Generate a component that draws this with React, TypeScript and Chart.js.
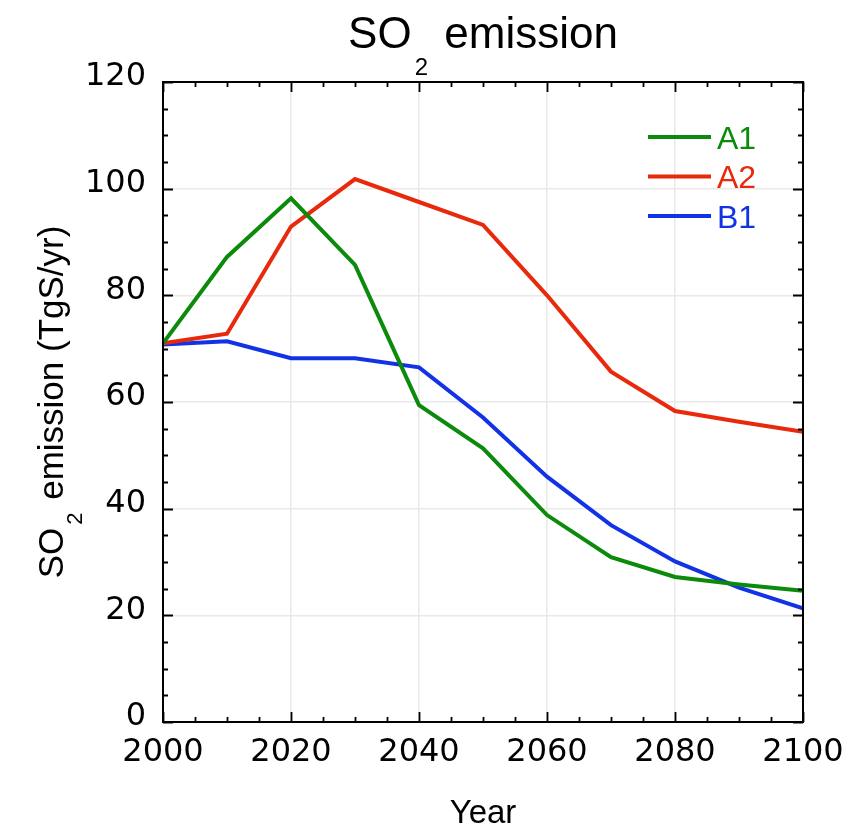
import React, { useEffect, useRef } from 'react';
import { Chart, registerables } from 'chart.js';

Chart.register(...registerables);

// ---- data ----
const years = [2000, 2010, 2020, 2030, 2040, 2050, 2060, 2070, 2080, 2090, 2100];
const seriesA1 = [71.0, 87.2, 98.2, 85.7, 59.4, 51.3, 38.8, 30.9, 27.2, 25.8, 24.6];
const seriesA2 = [71.0, 72.8, 92.9, 101.8, 97.5, 93.2, 80.0, 65.7, 58.3, 56.3, 54.4];
const seriesB1 = [70.8, 71.4, 68.2, 68.2, 66.5, 57.1, 46.0, 36.9, 30.1, 25.2, 21.3];
const seriesNames = ['A1', 'A2', 'B1'];
const seriesColors = ['#0b8a0b', '#e8290b', '#1232e6'];

const xMin = 2000;
const xMax = 2100;
const yMin = 0;
const yMax = 120;
const xMajorStep = 20;
const yMajorStep = 20;
const xMinorStep = 5;
const yMinorStep = 5;

const titleParts = ['SO', '2', ' emission'];
const yTitleParts = ['SO', '2', ' emission (TgS/yr)'];
const xTitleText = 'Year';

const SANS = '"Liberation Sans", Arial, Helvetica, sans-serif';
const TICK_FONT = '"DejaVu Sans", sans-serif';

function drawSubscripted(
  ctx: CanvasRenderingContext2D,
  parts: string[],
  mainSize: number,
  subSize: number,
  subShift: number,
  gap1: number,
  gap2: number
) {
  ctx.font = `${mainSize}px ${SANS}`;
  const w1 = ctx.measureText(parts[0]).width;
  const w3 = ctx.measureText(parts[2]).width;
  ctx.font = `${subSize}px ${SANS}`;
  const w2 = ctx.measureText(parts[1]).width;
  const total = w1 + gap1 + w2 + gap2 + w3;
  let x = -total / 2;
  ctx.textAlign = 'left';
  ctx.textBaseline = 'alphabetic';
  ctx.font = `${mainSize}px ${SANS}`;
  ctx.fillText(parts[0], x, 0);
  x += w1 + gap1;
  ctx.font = `${subSize}px ${SANS}`;
  ctx.fillText(parts[1], x, subShift);
  x += w2 + gap2;
  ctx.font = `${mainSize}px ${SANS}`;
  ctx.fillText(parts[2], x, 0);
}

const decorPlugin = {
  id: 'decor',
  afterDatasetsDraw(chart: any) {
    const { ctx, chartArea: a, scales } = chart;
    const xs = scales.x;
    const ys = scales.y;
    ctx.save();
    // frame
    ctx.strokeStyle = '#000';
    ctx.lineWidth = 2;
    ctx.strokeRect(a.left, a.top, a.right - a.left, a.bottom - a.top);
    // inward ticks, all four sides
    ctx.lineWidth = 1.8;
    ctx.beginPath();
    for (let v = xMin; v <= xMax + 1e-9; v += xMinorStep) {
      const px = Math.round(xs.getPixelForValue(v)) + 0.5;
      const len = Math.round(v - xMin) % xMajorStep === 0 ? 10 : 5;
      ctx.moveTo(px, a.bottom);
      ctx.lineTo(px, a.bottom - len);
      ctx.moveTo(px, a.top);
      ctx.lineTo(px, a.top + len);
    }
    for (let v = yMin; v <= yMax + 1e-9; v += yMinorStep) {
      const py = Math.round(ys.getPixelForValue(v)) + 0.5;
      const len = Math.round(v - yMin) % yMajorStep === 0 ? 10 : 5;
      ctx.moveTo(a.left, py);
      ctx.lineTo(a.left + len, py);
      ctx.moveTo(a.right, py);
      ctx.lineTo(a.right - len, py);
    }
    ctx.stroke();

    // legend inside plot
    const lx0 = a.right - 155;
    const lx1 = a.right - 92;
    const ly0 = a.top + 55;
    const lstep = 39.5;
    ctx.lineWidth = 4;
    ctx.font = `32px ${SANS}`;
    ctx.textAlign = 'left';
    ctx.textBaseline = 'alphabetic';
    chart.data.datasets.forEach((ds: any, i: number) => {
      const y = ly0 + i * lstep;
      ctx.strokeStyle = ds.borderColor;
      ctx.beginPath();
      ctx.moveTo(lx0, y);
      ctx.lineTo(lx1, y);
      ctx.stroke();
      ctx.fillStyle = ds.borderColor;
      ctx.fillText(ds.label, lx1 + 6, y + 11.5);
    });
    ctx.restore();
  },
  afterDraw(chart: any) {
    const { ctx, chartArea: a } = chart;
    ctx.save();
    ctx.fillStyle = '#000';
    // main title
    ctx.save();
    ctx.translate((a.left + a.right) / 2, 48);
    drawSubscripted(ctx, titleParts, 44, 24, 27, 3, 4);
    ctx.restore();
    // y axis title (rotated)
    ctx.save();
    ctx.translate(63, (a.top + a.bottom) / 2);
    ctx.rotate(-Math.PI / 2);
    drawSubscripted(ctx, yTitleParts, 35, 22, 19, 3, 3);
    ctx.restore();
    // x axis title
    ctx.font = `33px ${SANS}`;
    ctx.textAlign = 'center';
    ctx.textBaseline = 'alphabetic';
    ctx.fillText(xTitleText, (a.left + a.right) / 2, 823);
    ctx.restore();
  },
};

export default function App() {
  const canvasRef = useRef<HTMLCanvasElement | null>(null);

  useEffect(() => {
    const canvas = canvasRef.current;
    if (!canvas) return;
    const mk = (vals: number[]) => years.map((yr, i) => ({ x: yr, y: vals[i] }));
    const seriesData = [seriesA1, seriesA2, seriesB1];
    const chart = new Chart(canvas, {
      type: 'line',
      data: {
        datasets: seriesNames.map((name, i) => ({
          label: name,
          data: mk(seriesData[i]),
          borderColor: seriesColors[i],
          backgroundColor: seriesColors[i],
          borderWidth: 4,
          pointRadius: 0,
          tension: 0,
          fill: false,
        })),
      },
      options: {
        animation: false,
        responsive: false,
        devicePixelRatio: 1,
        layout: { padding: { top: 82, right: 46, left: 0, bottom: 0 } },
        plugins: {
          legend: { display: false },
          title: { display: false },
          tooltip: { enabled: false },
        },
        scales: {
          x: {
            type: 'linear',
            min: xMin,
            max: xMax,
            afterFit: (s: any) => {
              s.height = 104;
              s.paddingLeft = 0;
              s.paddingRight = 0;
            },
            ticks: {
              stepSize: xMajorStep,
              color: '#000',
              padding: 11,
              maxRotation: 0,
              font: { family: TICK_FONT, size: 32 },
              callback: (v: any) => String(v),
            },
            grid: { color: '#e9e9e9', lineWidth: 1.5, drawTicks: false },
            border: { display: false },
          },
          y: {
            type: 'linear',
            min: yMin,
            max: yMax,
            afterFit: (s: any) => {
              s.width = 163;
              s.paddingTop = 0;
              s.paddingBottom = 0;
            },
            ticks: {
              stepSize: yMajorStep,
              color: '#000',
              padding: 17,
              labelOffset: -5,
              font: { family: TICK_FONT, size: 32 },
            },
            grid: { color: '#e9e9e9', lineWidth: 1.5, drawTicks: false },
            border: { display: false },
          },
        },
      },
      plugins: [decorPlugin],
    });
    return () => chart.destroy();
  }, []);

  return (
    <div style={{ position: 'fixed', left: 0, top: 0, width: 849, height: 826, background: '#fff' }}>
      <canvas ref={canvasRef} width={849} height={826} style={{ display: 'block' }} />
    </div>
  );
}
